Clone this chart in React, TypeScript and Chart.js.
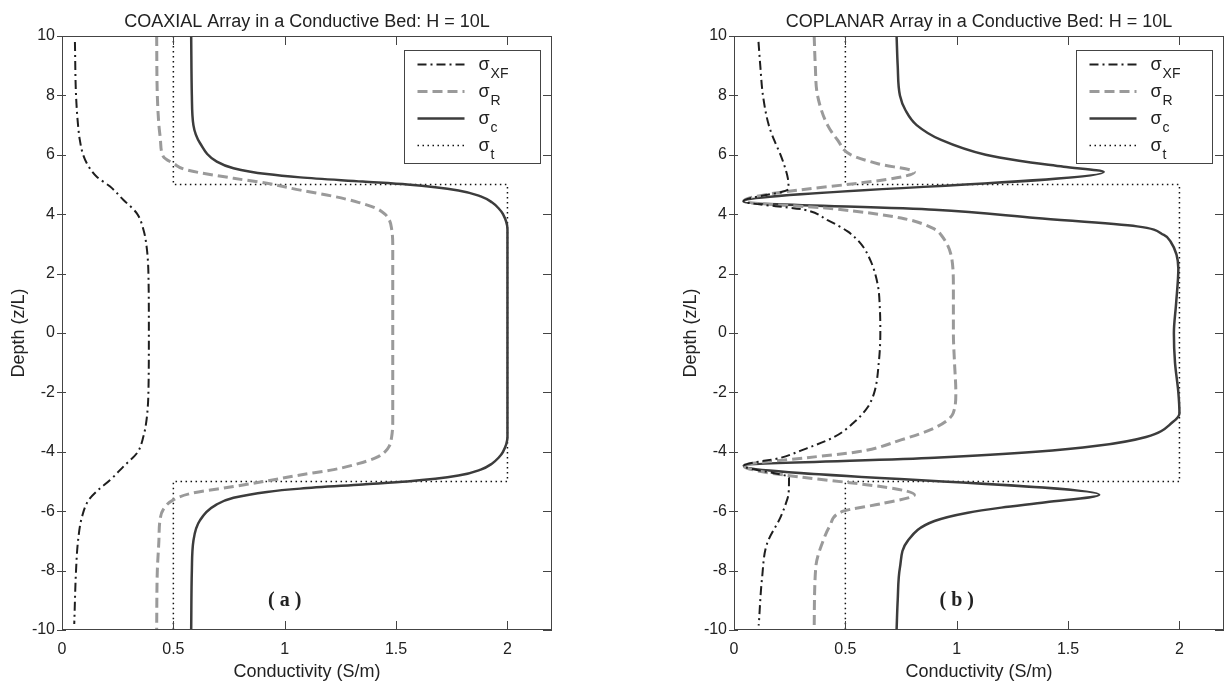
import React, { useEffect, useRef } from "react";
import { Chart, registerables } from "chart.js";

Chart.register(...registerables);

// ---------- axes ----------
const X_TICKS = [0, 0.5, 1, 1.5, 2];
const Y_TICKS = [-10, -8, -6, -4, -2, 0, 2, 4, 6, 8, 10];
const X_MIN = 0;
const X_MAX = 2.2;
const Y_MIN = -10;
const Y_MAX = 10;

// ---------- true formation conductivity (both panels) ----------
const trueDepth = [10, 5, 5, -5, -5, -10];
const trueSigma = [0.5, 0.5, 2, 2, 0.5, 0.5];

// ---------- panel (a): COAXIAL ----------
const coaxDepthXF = [9.8, 8, 7, 6.5, 6, 5.6, 5.26, 4.93, 4.48, 4.03, 3.47, 2.9, 2, 0, -2, -2.9, -3.47, -4.03, -4.48, -4.95, -5.3, -5.62, -6.18, -7, -8, -9.8];
const coaxXF = [0.058, 0.063, 0.072, 0.08, 0.095, 0.12, 0.156, 0.216, 0.276, 0.336, 0.366, 0.38, 0.388, 0.39, 0.388, 0.38, 0.366, 0.338, 0.278, 0.216, 0.16, 0.12, 0.09, 0.072, 0.063, 0.055];

const coaxDepthR = [10, 8, 7, 6.5, 5.94, 5.71, 5.49, 5.21, 5.04, 4.81, 4.6, 4.4, 4.2, 4.0, 3.8, 3.5, 3.0, 0, -3.0, -3.5, -3.8, -4.0, -4.2, -4.4, -4.6, -4.78, -4.98, -5.17, -5.4, -5.62, -5.94, -6.3, -7, -8, -10];
const coaxR = [0.425, 0.428, 0.435, 0.442, 0.455, 0.5, 0.56, 0.77, 0.92, 1.07, 1.22, 1.33, 1.41, 1.45, 1.47, 1.48, 1.485, 1.485, 1.485, 1.48, 1.47, 1.45, 1.41, 1.33, 1.22, 1.07, 0.92, 0.77, 0.58, 0.5, 0.455, 0.44, 0.435, 0.428, 0.425];

const coaxDepthC = [10, 8, 7, 6.39, 5.77, 5.55, 5.35, 5.24, 5.1, 5.0, 4.8, 4.6, 4.4, 4.2, 4.0, 3.5, 0, -3.5, -4.0, -4.2, -4.4, -4.6, -4.8, -5.0, -5.1, -5.24, -5.35, -5.55, -5.77, -6.3, -7, -8, -10];
const coaxC = [0.58, 0.583, 0.59, 0.62, 0.695, 0.77, 0.92, 1.07, 1.35, 1.55, 1.78, 1.88, 1.93, 1.96, 1.98, 2.0, 2.0, 2.0, 1.98, 1.96, 1.93, 1.88, 1.78, 1.55, 1.35, 1.07, 0.92, 0.77, 0.695, 0.62, 0.59, 0.583, 0.58];

// ---------- panel (b): COPLANAR ----------
const copDepthXF = [9.8, 9, 8, 7, 6.5, 6, 5.5, 5.2, 4.85, 4.44, 4.15, 3.8, 3.42, 3.0, 2.4, 1.6, 0.8, 0, -1, -2, -2.5, -3, -3.5, -3.96, -4.2, -4.47, -4.87, -5.4, -5.8, -6.2, -7.1, -8.25, -9.85];
const copXF = [0.11, 0.118, 0.13, 0.156, 0.18, 0.209, 0.232, 0.242, 0.245, 0.043, 0.315, 0.42, 0.51, 0.57, 0.615, 0.646, 0.655, 0.657, 0.65, 0.63, 0.6, 0.54, 0.45, 0.3, 0.21, 0.043, 0.247, 0.245, 0.23, 0.209, 0.148, 0.126, 0.111];

const copDepthR = [10, 9, 8, 7, 6.5, 6, 5.7, 5.42, 4.44, 4.18, 3.87, 3.5, 3.3, 2.5, 1.5, 0, -1, -2, -2.7, -3.2, -3.6, -4.0, -4.2, -4.47, -5.45, -5.75, -6.0, -6.5, -6.9, -7.9, -10];
const copR = [0.36, 0.365, 0.375, 0.42, 0.465, 0.525, 0.646, 0.81, 0.043, 0.45, 0.75, 0.9, 0.93, 0.978, 0.985, 0.985, 0.99, 0.996, 0.984, 0.9, 0.75, 0.556, 0.328, 0.043, 0.81, 0.66, 0.49, 0.43, 0.405, 0.367, 0.36];

const copDepthC = [10, 9, 8, 7.5, 7, 6.5, 6, 5.8, 5.6, 5.42, 4.42, 4.15, 3.87, 3.59, 3.3, 3.08, 2.17, 1, 0, -1, -2, -2.7, -3, -3.5, -3.8, -4, -4.2, -4.47, -5.45, -5.7, -5.88, -6.05, -6.33, -7, -7.9, -9, -10];
const copC = [0.73, 0.735, 0.745, 0.77, 0.82, 0.93, 1.13, 1.28, 1.48, 1.66, 0.043, 0.9, 1.355, 1.81, 1.93, 1.96, 1.995, 1.985, 1.975, 1.98, 1.995, 2.0, 1.97, 1.85, 1.63, 1.355, 0.9, 0.043, 1.64, 1.4, 1.2, 1.05, 0.9, 0.78, 0.745, 0.735, 0.73];

// ---------- styles ----------
const FONT = '"Liberation Sans", Arial, Helvetica, sans-serif';
const TEXT = "#222222";
const AXIS = "#444444";

type LineStyle = { color: string; width: number; dash: number[] };
const STYLE_XF: LineStyle = { color: "#1e1e1e", width: 2, dash: [9, 4, 2, 4] };
const STYLE_R: LineStyle = { color: "#9a9a9a", width: 3, dash: [10, 5] };
const STYLE_C: LineStyle = { color: "#3c3c3c", width: 2.5, dash: [] };
const STYLE_T: LineStyle = { color: "#111111", width: 1.5, dash: [1.5, 3.5] };

type Series = { depth: number[]; values: number[]; style: LineStyle; sub: string; smooth: boolean };

type PanelSpec = {
  title: string;
  tag: string;
  left: number;
  padRight: number;
  yWidth: number;
  series: Series[];
};

const panelA: PanelSpec = {
  title: "COAXIAL Array in a Conductive Bed: H = 10L",
  tag: "( a )",
  left: 0,
  padRight: 61,
  yWidth: 62,
  series: [
    { depth: coaxDepthXF, values: coaxXF, style: STYLE_XF, sub: "XF", smooth: true },
    { depth: coaxDepthR, values: coaxR, style: STYLE_R, sub: "R", smooth: true },
    { depth: coaxDepthC, values: coaxC, style: STYLE_C, sub: "c", smooth: true },
    { depth: trueDepth, values: trueSigma, style: STYLE_T, sub: "t", smooth: false },
  ],
};

const panelB: PanelSpec = {
  title: "COPLANAR Array in a Conductive Bed: H = 10L",
  tag: "( b )",
  left: 613,
  padRight: 2,
  yWidth: 121,
  series: [
    { depth: copDepthXF, values: copXF, style: STYLE_XF, sub: "XF", smooth: true },
    { depth: copDepthR, values: copR, style: STYLE_R, sub: "R", smooth: true },
    { depth: copDepthC, values: copC, style: STYLE_C, sub: "c", smooth: true },
    { depth: trueDepth, values: trueSigma, style: STYLE_T, sub: "t", smooth: false },
  ],
};

function buildDataset(s: Series) {
  return {
    label: "σ" + s.sub,
    data: s.depth.map((d, i) => ({ x: s.values[i], y: d })),
    borderColor: s.style.color,
    borderWidth: s.style.width,
    borderDash: s.style.dash,
    borderCapStyle: "butt",
    pointRadius: 0,
    pointHoverRadius: 0,
    fill: false,
    tension: 0,
    cubicInterpolationMode: s.smooth ? "monotone" : "default",
  };
}

function decorPlugin(spec: PanelSpec) {
  return {
    id: "decor",
    afterDraw(chart: any) {
      const ctx: CanvasRenderingContext2D = chart.ctx;
      const a = chart.chartArea;
      const xs = chart.scales.x;
      const ys = chart.scales.y;
      ctx.save();
      // axes box
      ctx.strokeStyle = AXIS;
      ctx.lineWidth = 1;
      ctx.setLineDash([]);
      ctx.strokeRect(a.left + 0.5, a.top + 0.5, a.right - a.left - 1, a.bottom - a.top - 1);
      // tick marks
      ctx.beginPath();
      X_TICKS.forEach((v) => {
        const px = Math.round(xs.getPixelForValue(v)) + 0.5;
        ctx.moveTo(px, a.bottom);
        ctx.lineTo(px, a.bottom - 9);
        ctx.moveTo(px, a.top);
        ctx.lineTo(px, a.top + 9);
      });
      Y_TICKS.forEach((v) => {
        const py = Math.round(ys.getPixelForValue(v)) + 0.5;
        ctx.moveTo(a.left - 5, py);
        ctx.lineTo(a.left + 4, py);
        ctx.moveTo(a.right, py);
        ctx.lineTo(a.right - 9, py);
      });
      ctx.stroke();

      // title
      ctx.fillStyle = TEXT;
      ctx.font = `18px ${FONT}`;
      ctx.textAlign = "center";
      ctx.textBaseline = "alphabetic";
      ctx.fillText(spec.title, (a.left + a.right) / 2, 27);
      // x label
      ctx.fillText("Conductivity (S/m)", (a.left + a.right) / 2, 677);
      // y label
      ctx.save();
      ctx.translate(a.left - 38, (a.top + a.bottom) / 2);
      ctx.rotate(-Math.PI / 2);
      ctx.fillText("Depth (z/L)", 0, 0);
      ctx.restore();

      // panel tag
      ctx.font = `bold 20px "Liberation Serif", "Times New Roman", serif`;
      ctx.textBaseline = "middle";
      ctx.fillText(spec.tag, xs.getPixelForValue(1.0), ys.getPixelForValue(-9) + 1);

      // legend
      const bw = 136;
      const bh = 113;
      const bx = Math.round(a.right - 12 - bw) + 0.5;
      const by = Math.round(a.top + 14) + 0.5;
      ctx.fillStyle = "#ffffff";
      ctx.fillRect(bx, by, bw, bh);
      ctx.strokeStyle = AXIS;
      ctx.lineWidth = 1;
      ctx.strokeRect(bx, by, bw, bh);
      spec.series.forEach((s, i) => {
        const rowY = by + 14 + 27 * i;
        ctx.strokeStyle = s.style.color;
        ctx.lineWidth = s.style.width;
        ctx.setLineDash(s.style.dash);
        ctx.beginPath();
        ctx.moveTo(bx + 13, rowY);
        ctx.lineTo(bx + 60, rowY);
        ctx.stroke();
        ctx.setLineDash([]);
        ctx.fillStyle = TEXT;
        ctx.textAlign = "left";
        ctx.textBaseline = "alphabetic";
        ctx.font = `18px ${FONT}`;
        ctx.fillText("σ", bx + 74, rowY + 5);
        const w = ctx.measureText("σ").width;
        ctx.font = `14px ${FONT}`;
        ctx.fillText(s.sub, bx + 74 + w + 1, rowY + 13);
      });
      ctx.restore();
    },
  };
}

function Panel({ spec }: { spec: PanelSpec }) {
  const ref = useRef<HTMLCanvasElement>(null);
  useEffect(() => {
    const chart = new Chart(ref.current as HTMLCanvasElement, {
      type: "line",
      data: { datasets: spec.series.map(buildDataset) as any },
      options: {
        animation: false,
        responsive: false,
        devicePixelRatio: 1,
        indexAxis: "y",
        events: [],
        layout: { padding: { top: 36, right: spec.padRight, left: 0, bottom: 0 } },
        plugins: {
          legend: { display: false },
          title: { display: false },
          tooltip: { enabled: false },
        },
        scales: {
          x: {
            type: "linear",
            position: "bottom",
            min: X_MIN,
            max: X_MAX,
            grid: { display: false, drawTicks: false },
            border: { display: false },
            ticks: {
              padding: 10,
              color: TEXT,
              font: { family: FONT, size: 16 },
              maxRotation: 0,
              autoSkip: false,
              callback: (v: any) => String(Number(v)),
            },
            afterBuildTicks: (s: any) => {
              s.ticks = X_TICKS.map((v) => ({ value: v }));
            },
            afterFit: (s: any) => {
              s.height = 51;
            },
          },
          y: {
            type: "linear",
            position: "left",
            min: Y_MIN,
            max: Y_MAX,
            grid: { display: false, drawTicks: false },
            border: { display: false },
            ticks: {
              padding: 7,
              color: TEXT,
              font: { family: FONT, size: 16 },
              autoSkip: false,
              callback: (v: any) => String(Number(v)),
            },
            afterBuildTicks: (s: any) => {
              s.ticks = Y_TICKS.map((v) => ({ value: v }));
            },
            afterFit: (s: any) => {
              s.width = spec.yWidth;
            },
          },
        },
      } as any,
      plugins: [decorPlugin(spec)],
    });
    return () => chart.destroy();
  }, [spec]);
  return (
    <canvas
      ref={ref}
      width={613}
      height={681}
      style={{ position: "absolute", left: spec.left, top: 0, width: 613, height: 681 }}
    />
  );
}

export default function App() {
  return (
    <div
      style={{
        position: "fixed",
        left: 0,
        top: 0,
        width: 1226,
        height: 681,
        background: "#ffffff",
        overflow: "hidden",
      }}
    >
      <Panel spec={panelA} />
      <Panel spec={panelB} />
    </div>
  );
}
